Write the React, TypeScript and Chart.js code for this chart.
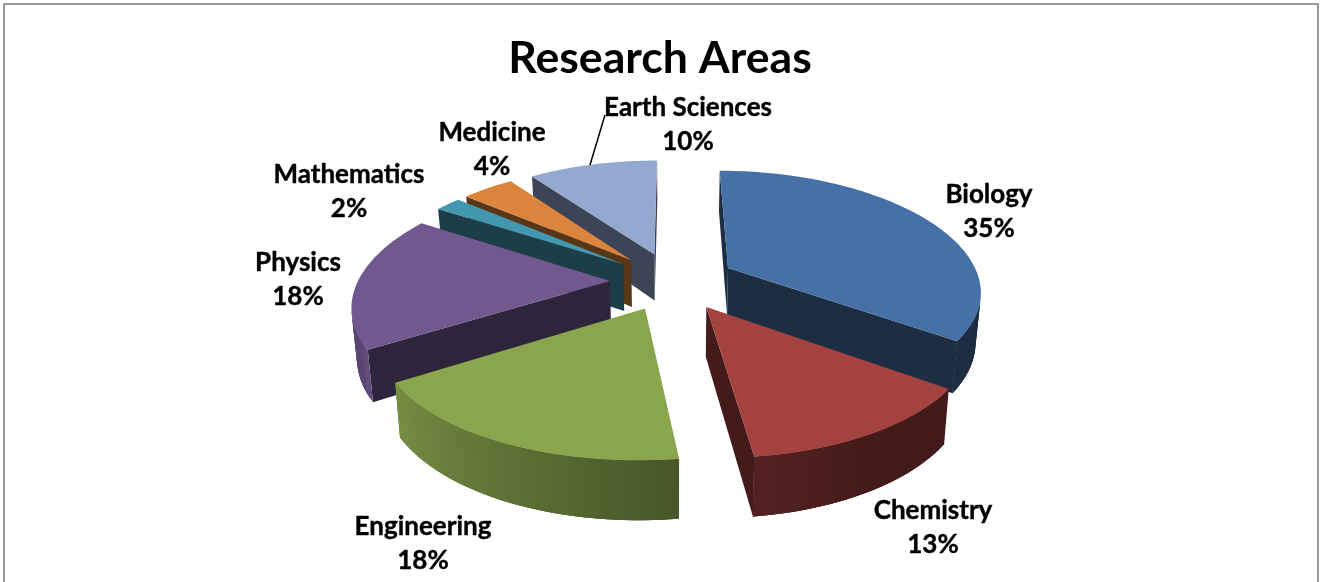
import React, { useEffect, useRef } from "react";
import { Chart, registerables } from "chart.js";

Chart.register(...registerables);

const categories = ["Biology", "Chemistry", "Engineering", "Physics", "Mathematics", "Medicine", "Earth Sciences"];
const shares = [35, 13, 18, 18, 2, 4, 10];
const topColors = ["#4671A6", "#A4423F", "#89A54E", "#71588F", "#4198AF", "#DB843D", "#93A9CF"];
const chartTitle = "Research Areas";

// [centre x, first line middle y] of each two-line label
const labelAnchors: [number, number][] = [
  [989, 195],
  [933, 511],
  [423, 527],
  [298, 263],
  [349, 175],
  [492, 133],
  [688, 108],
];
const LINE_GAP = 34;

const CX = 673;
const CY = 281;
const SX = 252;
const SY = 117;
const PERSP_X = 0.18;
const PERSP_Y = 0.163;
const EXPLODE = 0.25;
const DEPTH = 48;
const BOTTOM_SHRINK = 0.983;
const CUT_SHADE = 0.41;

type P = { x: number; y: number };

function project(X: number, Y: number, bottom: boolean): P {
  const dx = 1 - PERSP_X * Y;
  const dy = 1 - PERSP_Y * Y;
  const x = (SX * X) / dx;
  const y = (SY * Y) / dy;
  return bottom
    ? { x: CX + x * BOTTOM_SHRINK, y: CY + y + DEPTH / dy }
    : { x: CX + x, y: CY + y };
}

function shade(hex: string, f: number): string {
  const n = parseInt(hex.slice(1), 16);
  const r = Math.round(((n >> 16) & 255) * f);
  const g = Math.round(((n >> 8) & 255) * f);
  const b = Math.round((n & 255) * f);
  return `rgb(${r},${g},${b})`;
}

// brightness of the curved wall by clockwise angle from the top
function wallShade(angle: number): number {
  const deg = (((angle + Math.PI / 2) * 180) / Math.PI + 360) % 360;
  if (deg < 150) return 0.41;
  if (deg < 172) return 0.41 + ((deg - 150) / 22) * 0.1;
  if (deg < 240) return 0.52 + ((deg - 172) / 68) * 0.36;
  return 0.8;
}

function poly(ctx: CanvasRenderingContext2D, pts: P[], color: string) {
  ctx.beginPath();
  pts.forEach((p, i) => (i ? ctx.lineTo(p.x, p.y) : ctx.moveTo(p.x, p.y)));
  ctx.closePath();
  ctx.fillStyle = color;
  ctx.fill();
}

function area(pts: P[]): number {
  let s = 0;
  pts.forEach((p, i) => {
    const q = pts[(i + 1) % pts.length];
    s += p.x * q.y - q.x * p.y;
  });
  return s / 2;
}

const pie3d = {
  id: "pie3d",
  beforeDatasetDraw(chart: any, args: any) {
    const ctx: CanvasRenderingContext2D = chart.ctx;
    const meta = chart.getDatasetMeta(args.index);
    const colors = chart.data.datasets[args.index].backgroundColor as string[];
    const order = meta.data
      .map((el: any, i: number) => {
        const mid = (el.startAngle + el.endAngle) / 2;
        return { el, i, mid, depth: Math.sin(mid) };
      })
      .sort((a: any, b: any) => a.depth - b.depth);

    for (const { el, i, mid } of order) {
      const color = colors[i];
      const ax = Math.cos(mid) * EXPLODE;
      const ay = Math.sin(mid) * EXPLODE;
      const steps = Math.max(6, Math.ceil((el.endAngle - el.startAngle) / 0.02));
      const rim: { X: number; Y: number; a: number }[] = [];
      for (let k = 0; k <= steps; k++) {
        const a = el.startAngle + ((el.endAngle - el.startAngle) * k) / steps;
        rim.push({ X: ax + Math.cos(a), Y: ay + Math.sin(a), a });
      }
      const first = rim[0];
      const last = rim[rim.length - 1];

      const wall = (p: { X: number; Y: number }, q: { X: number; Y: number }) => [
        project(p.X, p.Y, false),
        project(q.X, q.Y, false),
        project(q.X, q.Y, true),
        project(p.X, p.Y, true),
      ];

      const apex = { X: ax, Y: ay };
      const cuts = [wall(apex, first), wall(last, apex)];
      for (const c of cuts) {
        if (area(c) < 0) poly(ctx, c, shade(color, CUT_SHADE));
      }
      // each rim band overlaps the next two steps so no seams show through
      for (let k = 0; k < steps; k++) {
        const q = wall(rim[k], rim[k + 1]);
        if (area(q) < 0) {
          poly(ctx, wall(rim[k], rim[Math.min(k + 3, steps)]), shade(color, wallShade(rim[k].a)));
        }
      }
      const top = [project(ax, ay, false), ...rim.map((r) => project(r.X, r.Y, false))];
      poly(ctx, top, color);
    }
    return false;
  },
  afterDraw(chart: any) {
    const ctx: CanvasRenderingContext2D = chart.ctx;
    const labels = chart.data.labels as string[];
    const values = chart.data.datasets[0].data as number[];
    const total = values.reduce((s, v) => s + v, 0);
    ctx.save();
    ctx.fillStyle = "#000";
    ctx.strokeStyle = "#000";
    ctx.lineWidth = 0.4;
    ctx.font = "bold 26px Lato";
    ctx.textAlign = "center";
    ctx.textBaseline = "middle";
    labels.forEach((name, i) => {
      const [x, y] = labelAnchors[i];
      const pct = `${Math.round((values[i] / total) * 100)}%`;
      ctx.fillText(name, x, y);
      ctx.strokeText(name, x, y);
      ctx.fillText(pct, x, y + LINE_GAP);
      ctx.strokeText(pct, x, y + LINE_GAP);
    });
    // leader of the Earth Sciences label
    ctx.lineWidth = 1.5;
    ctx.beginPath();
    ctx.moveTo(590, 165);
    ctx.lineTo(605, 115);
    ctx.stroke();
    ctx.restore();
  },
};

export default function App() {
  const ref = useRef<HTMLCanvasElement>(null);
  useEffect(() => {
    const chart = new Chart(ref.current!, {
      type: "pie",
      data: {
        labels: categories,
        datasets: [{ data: shares, backgroundColor: topColors, borderWidth: 0 }],
      },
      options: {
        responsive: false,
        animation: false,
        events: [],
        plugins: {
          legend: { display: false },
          tooltip: { enabled: false },
          title: {
            display: true,
            text: chartTitle,
            color: "#000",
            font: { family: "Lato", size: 44.6, weight: "bold" },
            padding: { top: 32, bottom: 10 },
          },
        },
      },
      plugins: [pie3d],
    } as any);
    return () => chart.destroy();
  }, []);
  return (
    <div style={{ position: "fixed", left: 0, top: 0, width: 1320, height: 582, overflow: "hidden", background: "#fff" }}>
      <canvas ref={ref} width={1320} height={582} style={{ display: "block", position: "absolute", left: 0, top: 0 }} />
      <div style={{ position: "absolute", left: 3, top: 3, width: 1316, height: 640, boxSizing: "border-box", border: "2px solid #999", pointerEvents: "none" }} />
    </div>
  );
}
